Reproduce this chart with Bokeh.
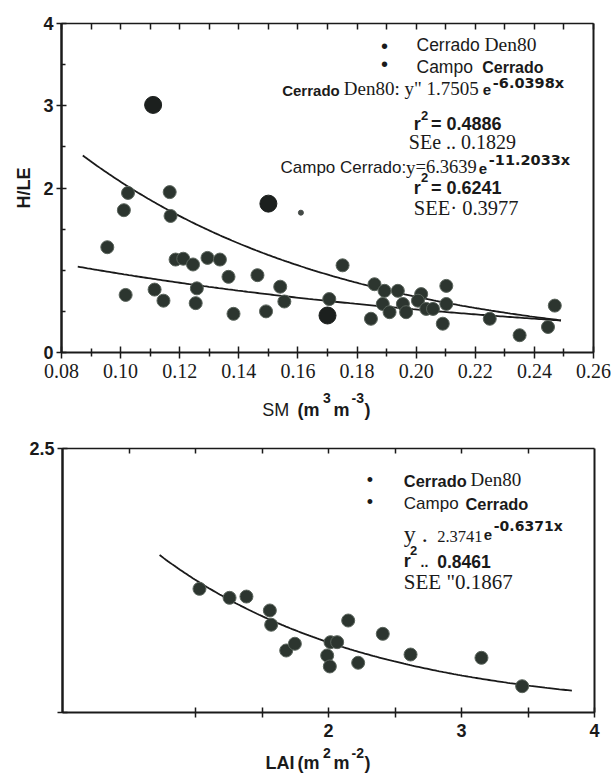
import numpy as np
from bokeh.plotting import figure
from bokeh.models import Range1d, LinearAxis, FixedTicker, Label, CustomJSTickFormatter
from bokeh.layouts import column
from bokeh.embed import file_html
from bokeh.resources import INLINE

# ---------------- data ----------------
# Top panel: H/LE versus soil moisture SM
campo_sm = [0.0955, 0.1011, 0.1025, 0.1166, 0.1169, 0.1186, 0.1212, 0.1245, 0.1294,
            0.1336, 0.1365, 0.1463, 0.1751, 0.1859, 0.1893, 0.1938, 0.2017, 0.2102]
campo_hle = [1.28, 1.73, 1.94, 1.95, 1.66, 1.13, 1.14, 1.07, 1.15,
             1.13, 0.92, 0.94, 1.06, 0.83, 0.75, 0.75, 0.71, 0.81]
den80_sm = [0.1017, 0.1115, 0.1145, 0.1258, 0.1254, 0.1382, 0.1492, 0.1540, 0.1554,
            0.1706, 0.1847, 0.1887, 0.1910, 0.1955, 0.1966, 0.2006, 0.2034, 0.2057,
            0.2090, 0.2102, 0.2249, 0.2350, 0.2446, 0.2469]
den80_hle = [0.70, 0.765, 0.63, 0.78, 0.60, 0.47, 0.50, 0.80, 0.62,
             0.65, 0.41, 0.59, 0.49, 0.59, 0.49, 0.63, 0.53, 0.53,
             0.35, 0.59, 0.41, 0.21, 0.31, 0.57]
large_sm = [0.111, 0.150, 0.170]
large_hle = [3.01, 1.81, 0.45]
small_sm = [0.161]
small_hle = [1.70]

# Bottom panel: H/LE versus LAI
lai = [1.030, 1.256, 1.383, 1.559, 1.569, 1.682, 1.747, 1.990, 2.010, 2.015,
       2.065, 2.148, 2.223, 2.408, 2.617, 3.150, 3.456]
lai_hle = [1.171, 1.086, 1.098, 0.966, 0.831, 0.587, 0.651, 0.540, 0.436, 0.666,
           0.666, 0.871, 0.471, 0.745, 0.549, 0.518, 0.249]

# Fitted curves printed on the chart: y = a * exp(b * x)
den80_fit = (1.7505, -6.0398)
campo_fit = (6.3639, -11.2033)
lai_fit = (2.3741, -0.6371)
den80_span = (0.0855, 0.249)
campo_span = (0.0872, 0.249)
lai_span = (0.73, 3.83)

# Tick labels
top_x_ticks = [0.08, 0.10, 0.12, 0.14, 0.16, 0.18, 0.20, 0.22, 0.24, 0.26]
top_x_labels = ["0.08", "0.10", "0.12", "0.14", "0.16", "0.18", "0.20", "0.22", "0.24", "0.26"]
top_y_ticks = [0, 2, 3, 4]
top_y_labels = ["0", "2", "3", "4"]
bot_x_ticks = [2, 3, 4]
bot_x_labels = ["2", "3", "4"]
bot_y_ticks = [0, 2.5]
bot_y_labels = ["", "2.5"]

SANS = "Liberation Sans"
SERIF = "Liberation Serif"
SUP = "DejaVu Sans"
DOT_FILL = "#2c352f"
DOT_LINE = "#5a645c"
INK = "#1a1a1a"
W = 611


def make_fig(xr, yr, left, top, fw, fh, right, bottom):
    p = figure(frame_width=fw, frame_height=fh, min_border_left=left, min_border_top=top,
               min_border_right=right, min_border_bottom=bottom,
               x_range=Range1d(*xr), y_range=Range1d(*yr),
               x_axis_location=None, y_axis_location=None, frame_align=False,
               output_backend="svg", toolbar_location=None)
    p.grid.visible = False
    p.outline_line_color = None
    p.background_fill_color = "white"
    p.border_fill_color = "white"
    return p


def style_axis(ax, width=2.0):
    ax.axis_line_color = INK
    ax.axis_line_width = width
    ax.major_tick_line_color = INK
    ax.minor_tick_line_color = INK
    ax.major_tick_line_width = 1.5
    ax.minor_tick_line_width = 1.5


def blank_axis(p, place, ticks, minor, tin, width=1.5):
    ax = LinearAxis(ticker=FixedTicker(ticks=ticks, minor_ticks=minor),
                    formatter=CustomJSTickFormatter(code="return ''"))
    style_axis(ax, width)
    ax.major_tick_in = tin
    ax.major_tick_out = 0
    ax.minor_tick_in = tin
    ax.minor_tick_out = 0
    ax.major_label_text_font_size = "1px"
    p.add_layout(ax, place)
    return ax


def texts(p, fx, fy, items):
    # items: (x, baseline_y, text, font, size_px, style[, align[, centre_given]])
    for it in items:
        px, py, txt, font, size, style = it[:6]
        align = it[6] if len(it) > 6 else "left"
        centred = it[7] if len(it) > 7 else False
        ymid = py if centred else py - 0.345 * size
        p.add_layout(Label(x=fx(px), y=fy(ymid), text=txt, text_font=font,
                           text_font_size=f"{size}px", text_font_style=style,
                           text_align=align, text_baseline="middle",
                           text_color=INK))


def strip(top, h, items):
    s = figure(frame_width=W, frame_height=h, min_border_left=0, min_border_right=0,
               min_border_top=0, min_border_bottom=0,
               x_range=Range1d(0, W), y_range=Range1d(h, 0),
               x_axis_location=None, y_axis_location=None, frame_align=False,
               output_backend="svg", toolbar_location=None)
    s.grid.visible = False
    s.outline_line_color = None
    texts(s, lambda px: px, lambda py: py - top, items)
    return s


# ---------------- top panel (page y 0..388) ----------------
p1 = make_fig((0.08, 0.26), (0, 4), 61, 23, 532, 329, 18, 36)
fx1 = lambda px: 0.08 + (px - 61) * 0.18 / 532
fy1 = lambda py: (352 - py) * 4 / 329

top_minor = list(np.round(np.arange(0.09, 0.26, 0.02), 2))
xb = LinearAxis(ticker=FixedTicker(ticks=top_x_ticks, minor_ticks=top_minor))
style_axis(xb, 2.0)
xb.major_tick_in = 6; xb.major_tick_out = 6
xb.minor_tick_in = 4; xb.minor_tick_out = 4
xb.major_label_overrides = {t: s for t, s in zip(top_x_ticks, top_x_labels)}
xb.major_label_text_font = SERIF
xb.major_label_text_font_size = "20px"
xb.major_label_text_color = INK
xb.major_label_standoff = 5
p1.add_layout(xb, "below")

yl = LinearAxis(ticker=FixedTicker(ticks=top_y_ticks, minor_ticks=[0.5, 1, 1.5, 2.5, 3.5]))
style_axis(yl, 2.5)
yl.major_tick_in = 5; yl.major_tick_out = 5
yl.minor_tick_in = 4; yl.minor_tick_out = 0
yl.major_label_overrides = {t: s for t, s in zip(top_y_ticks, top_y_labels)}
yl.major_label_text_font = SANS
yl.major_label_text_font_style = "bold"
yl.major_label_text_font_size = "18px"
yl.major_label_text_color = INK
yl.major_label_standoff = 3
yl.axis_label = "H/LE"
yl.axis_label_text_font = SANS
yl.axis_label_text_font_style = "bold"
yl.axis_label_text_font_size = "18px"
yl.axis_label_text_color = INK
yl.axis_label_standoff = 6
p1.add_layout(yl, "left")

blank_axis(p1, "above", top_x_ticks, top_minor, 6)
blank_axis(p1, "right", [], [], 0, 2.0)

for (a, b), (s0, s1) in ((den80_fit, den80_span), (campo_fit, campo_span)):
    xs = np.linspace(s0, s1, 200)
    p1.line(xs, a * np.exp(b * xs), line_color=INK, line_width=1.8)

p1.scatter(campo_sm, campo_hle, size=13, fill_color=DOT_FILL, line_color=DOT_LINE, line_width=1)
p1.scatter(den80_sm, den80_hle, size=13, fill_color=DOT_FILL, line_color=DOT_LINE, line_width=1)
p1.scatter(large_sm, large_hle, size=17, fill_color="#1c201e", line_color="#1c201e")
p1.scatter(small_sm, small_hle, size=5, fill_color="#444a46", line_color="#444a46")

texts(p1, fx1, fy1, [
    (384, 45, "•", SANS, 20, "normal", "center", True),
    (416, 50.7, "Cerrado", SANS, 17.5, "normal"),
    (484, 50.7, "Den80", SERIF, 19.5, "normal"),
    (384, 63.3, "•", SANS, 20, "normal", "center", True),
    (416, 72.7, "Campo", SANS, 17.5, "normal"),
    (481.7, 72.7, "Cerrado", SANS, 16, "bold"),
    (281.7, 95, "Cerrado", SANS, 15, "bold"),
    (343.3, 95, "Den80: y\" 1.7505", SERIF, 19, "normal"),
    (482.3, 95, "e", SANS, 15, "bold"),
    (492.3, 87.3, "-6.0398x", SUP, 14.5, "bold"),
    (413.3, 130, "r", SANS, 18, "bold"),
    (420.5, 119.5, "2", SANS, 13, "bold"),
    (430.5, 130, "= 0.4886", SANS, 18, "bold"),
    (408.3, 148.3, "SEe .. 0.1829", SERIF, 20, "normal"),
    (280, 173.3, "Campo Cerrado:", SANS, 17, "normal"),
    (405.5, 173.3, "y", SERIF, 19, "normal"),
    (415, 173.3, "=6.3639", SERIF, 18.5, "normal"),
    (478.3, 173.3, "e", SANS, 15, "bold"),
    (488.3, 165, "-11.2033x", SUP, 14.5, "bold"),
    (413.3, 193.3, "r", SANS, 18, "bold"),
    (420.5, 181, "2", SANS, 13, "bold"),
    (430.5, 193.3, "= 0.6241", SANS, 18, "bold"),
    (413.3, 215, "SEE· 0.3977", SERIF, 20.5, "normal"),
])

# ---------------- x label strip (page y 388..425) ----------------
s1 = strip(388, 37, [
    (261.7, 416, "SM", SANS, 18, "normal"),
    (297, 416, "(m", SANS, 18, "bold"),
    (322.5, 402.5, "3", SANS, 14, "bold"),
    (333, 416, "m", SANS, 18, "bold"),
    (351, 402.5, "-3", SANS, 14, "bold"),
    (364, 416, ")", SANS, 18, "bold"),
])

# ---------------- bottom panel (page y 425..744) ----------------
p2 = make_fig((0, 4), (0, 2.5), 62, 23, 532, 264, 17, 32)
fx2 = lambda px: (px - 62) * 4 / 532
fy2 = lambda py: (712 - py) * 2.5 / 264

xb2 = LinearAxis(ticker=FixedTicker(ticks=bot_x_ticks, minor_ticks=[1, 1.5, 2.5, 3.5]))
style_axis(xb2, 2.0)
xb2.major_tick_in = 5; xb2.major_tick_out = 5
xb2.minor_tick_in = 5; xb2.minor_tick_out = 5
xb2.major_label_overrides = {t: s for t, s in zip(bot_x_ticks, bot_x_labels)}
xb2.major_label_text_font = SANS
xb2.major_label_text_font_style = "bold"
xb2.major_label_text_font_size = "18px"
xb2.major_label_text_color = INK
xb2.major_label_standoff = 6
p2.add_layout(xb2, "below")

yl2 = LinearAxis(ticker=FixedTicker(ticks=bot_y_ticks, minor_ticks=[]))
style_axis(yl2, 2.5)
yl2.major_tick_in = 5; yl2.major_tick_out = 5
yl2.major_label_overrides = {t: s for t, s in zip(bot_y_ticks, bot_y_labels)}
yl2.major_label_text_font = SANS
yl2.major_label_text_font_style = "bold"
yl2.major_label_text_font_size = "18px"
yl2.major_label_text_color = INK
yl2.major_label_standoff = 3
p2.add_layout(yl2, "left")

blank_axis(p2, "above", [0.5, 1, 1.5, 2, 2.5, 3, 3.5], [], 5)
blank_axis(p2, "right", [], [], 0, 2.0)

a, b = lai_fit
xs = np.linspace(lai_span[0], lai_span[1], 200)
p2.line(xs, a * np.exp(b * xs), line_color=INK, line_width=1.8)
p2.scatter(lai, lai_hle, size=13, fill_color=DOT_FILL, line_color=DOT_LINE, line_width=1)

texts(p2, fx2, fy2, [
    (369.3, 479.3, "•", SANS, 18, "normal", "center", True),
    (403.3, 486, "Cerrado", SANS, 16.4, "bold"),
    (470, 486, "Den80", SERIF, 19, "normal"),
    (369.3, 501.7, "•", SANS, 18, "normal", "center", True),
    (403.3, 509.3, "Campo", SANS, 17, "normal"),
    (465, 509.3, "Cerrado", SANS, 16.4, "bold"),
    (403.3, 541.7, "y .", SERIF, 24, "normal"),
    (436.7, 541.7, "2.3741", SERIF, 16.5, "normal"),
    (483.3, 540, "e", SANS, 15, "bold"),
    (493.3, 530, "-0.6371x", SUP, 14, "bold"),
    (403.3, 566.7, "r", SANS, 18, "bold"),
    (409.5, 554, "2", SANS, 13, "bold"),
    (420, 566.7, "..", SANS, 14, "bold"),
    (436.7, 566.7, "0.8461", SANS, 17.5, "bold"),
    (403.3, 588.3, "SEE \"0.1867", SERIF, 21, "normal"),
])

# ---------------- x label strip (page y 744..775) ----------------
s2 = strip(744, 31, [
    (265, 769, "LAI", SANS, 18, "bold"),
    (297, 769, "(m", SANS, 18, "bold"),
    (322.5, 757, "2", SANS, 14, "bold"),
    (333, 769, "m", SANS, 18, "bold"),
    (351, 757, "-2", SANS, 14, "bold"),
    (364, 769, ")", SANS, 18, "bold"),
])

layout = column(p1, s1, p2, s2, spacing=0)
open("out.html", "w").write(file_html(layout, INLINE))
